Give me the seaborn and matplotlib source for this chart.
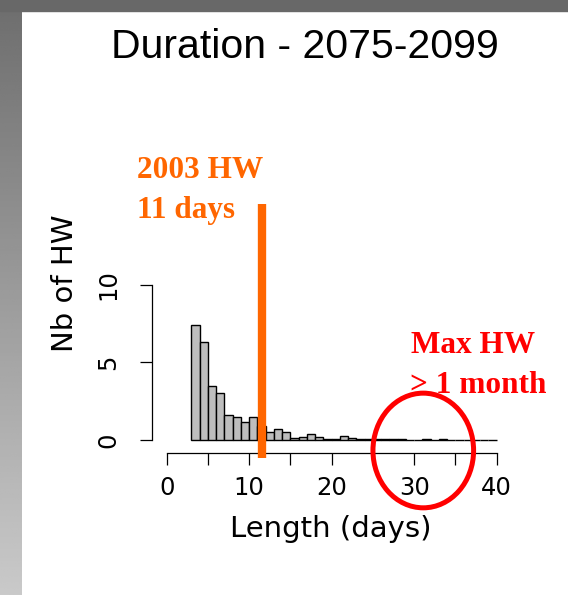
import numpy as np
import pandas as pd
import seaborn as sns
import matplotlib.pyplot as plt
from matplotlib.patches import Ellipse, Rectangle

# heat wave length bins (left edge, days) and number of HW per bin
bin_left = np.arange(3, 40)
nb_hw = [7.4, 6.3, 3.45, 3.0, 1.6, 1.5, 1.15, 1.5, 0.9, 0.5,
         0.7, 0.5, 0.1, 0.2, 0.37, 0.2, 0.05, 0.05, 0.25, 0.1,
         0.05, 0.05, 0.06, 0.06, 0.06, 0.06, 0.0, 0.0, 0.08, 0.0,
         0.08, 0.0, 0.0, 0.0, 0.0, 0.0, 0.0]

xticks = [0, 5, 10, 15, 20, 25, 30, 35, 40]
xticklabels = ["0", "", "10", "", "20", "", "30", "", "40"]
yticks = [0, 5, 10]

# 2003 heat wave marker and the "max HW" ring
hw2003_x = 11.5
hw2003_span = (-1.18, 15.2)
ring_center = (31.1, -0.68)
ring_size = (12.2, 7.4)

df = pd.DataFrame({"length": bin_left + 0.5, "nb": nb_hw})

sns.set_style("ticks")
plt.rcParams["font.family"] = ["DejaVu Sans"]
plt.rcParams["text.color"] = "black"
plt.rcParams["axes.labelcolor"] = "black"

fig = plt.figure(figsize=(5.68, 5.95), dpi=100)

# slide frame: dark top band and grey gradient on the left
bg = fig.add_axes([0, 0, 0.0382, 1], zorder=-1)
bg.imshow(np.linspace(0.43, 0.79, 200).reshape(-1, 1), cmap="gray", vmin=0, vmax=1,
          aspect="auto", extent=[0, 1, 0, 1], origin="upper")
bg.axis("off")
fig.patches.append(Rectangle((0, 1 - 0.018), 1, 0.018, transform=fig.transFigure,
                             color="#686868", zorder=0))

ax = fig.add_axes([0.2671, 0.2382, 0.6306, 0.4261])
sns.histplot(data=df, x="length", weights="nb", binwidth=1, binrange=(3, 40), ax=ax,
             color="#BEBEBE", edgecolor="black", linewidth=1.0, alpha=1)

ax.set_xlim(-1.82, 41.6)
ax.set_ylim(-0.86, 15.5)
for s in ["top", "right"]:
    ax.spines[s].set_visible(False)
ax.spines["left"].set_bounds(0, 10)
ax.spines["bottom"].set_bounds(0, 40)
for s in ["left", "bottom"]:
    ax.spines[s].set_linewidth(0.9)
    ax.spines[s].set_color("black")

ax.set_xticks(xticks)
ax.set_xticklabels(xticklabels)
ax.set_yticks(yticks)
ax.set_yticklabels([str(v) for v in yticks], rotation=90, va="center")
ax.tick_params(axis="both", direction="out", length=8.5, width=0.9,
               labelsize=17.5, pad=8, colors="black", bottom=True, left=True)
ax.tick_params(axis="y", pad=14)

ax.set_xlabel("Length (days)", fontsize=21, color="black")
ax.set_ylabel("Nb of HW", fontsize=21, color="black")
ax.xaxis.set_label_coords(0.5, -0.245)
ax.yaxis.set_label_coords(-0.203, 0.672)

ax.vlines(hw2003_x, *hw2003_span, color="#FF6600", linewidth=6, clip_on=False, zorder=5)
ax.add_patch(Ellipse(ring_center, *ring_size, fill=False, edgecolor="#FF0000",
                     linewidth=3.6, clip_on=False, zorder=6))

W, H = 568, 595
serif = dict(family="Liberation Serif", fontweight="bold", fontsize=22.5, va="baseline")
fig.text(137 / W, 1 - 178 / H, "2003 HW", color="#FF6600", **serif)
fig.text(137 / W, 1 - 218 / H, "11 days", color="#FF6600", **serif)
fig.text(411 / W, 1 - 353 / H, "Max HW", color="#FF0000", **serif)
fig.text(410 / W, 1 - 393 / H, "> 1 month", color="#FF0000", **serif)

fig.text(305 / W, 1 - 58 / H, "Duration - 2075-2099", family="Liberation Sans",
         fontsize=29.5, ha="center", va="baseline", color="black")

fig.savefig("out.png", dpi=100, facecolor="white")
